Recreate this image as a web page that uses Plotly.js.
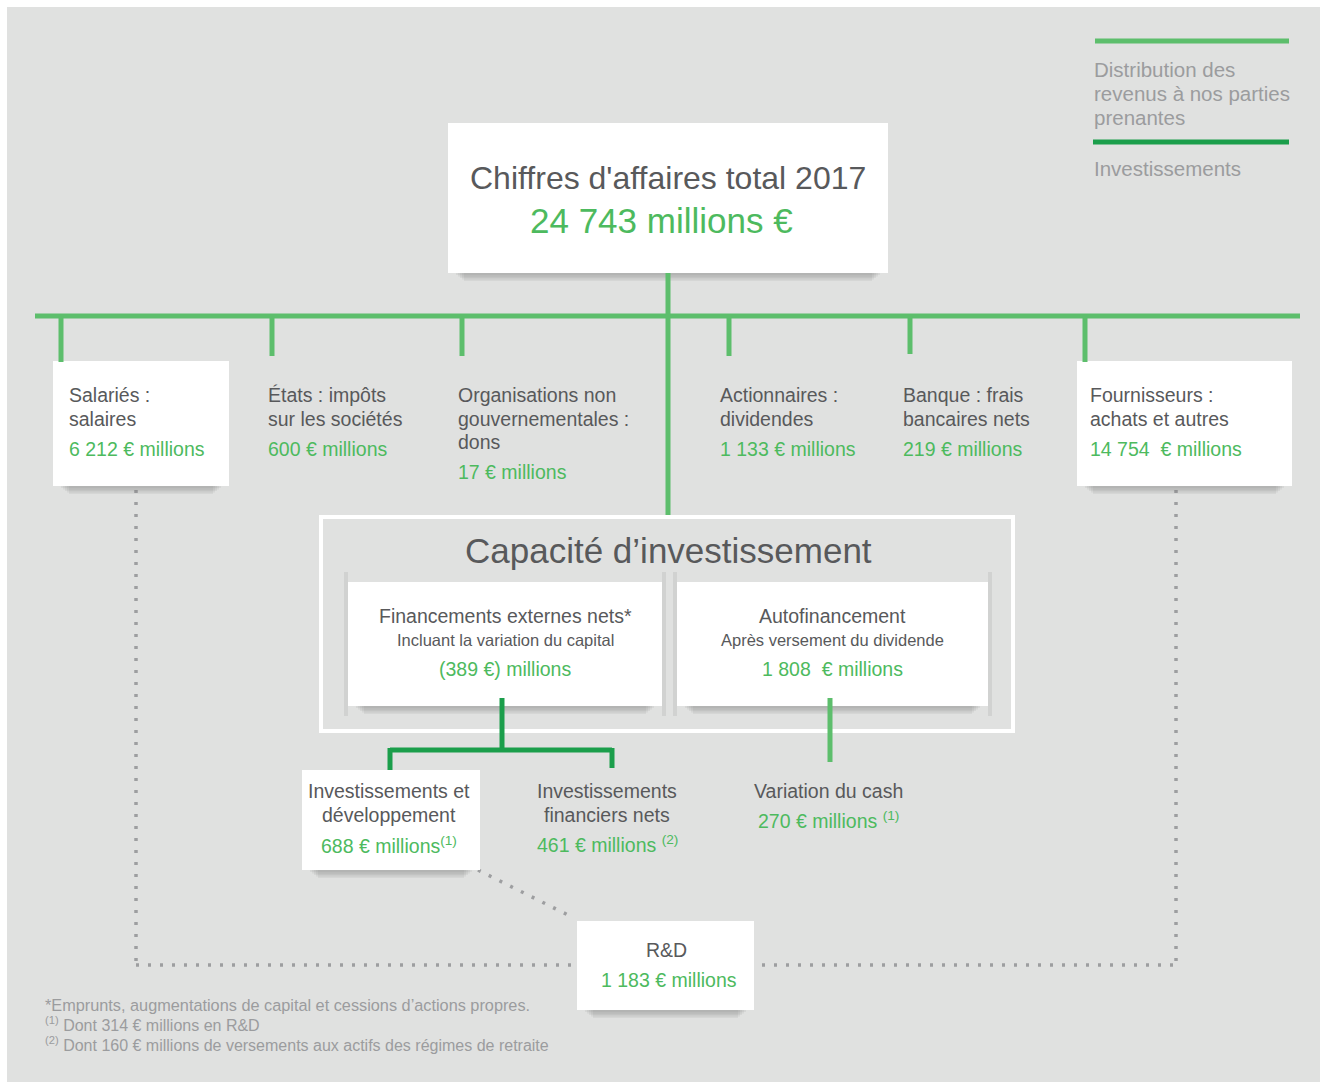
<!DOCTYPE html>
<html><head><meta charset="utf-8">
<script src="https://cdn.plot.ly/plotly-3.0.1.min.js"></script>
<style>html,body{margin:0;padding:0;background:#fff}</style>
</head><body><div id="chart" style="width:1327px;height:1088px"></div>
<script>
// ---- data ----
const revenueTitle = "Chiffres d'affaires total 2017";
const revenueValue = "24 743 millions €";
const stakeholderLabels = ["Salariés :<br>salaires", "États : impôts<br>sur les sociétés", "Organisations non<br>gouvernementales :<br>dons", "Actionnaires :<br>dividendes", "Banque : frais<br>bancaires nets", "Fournisseurs :<br>achats et autres"];
const stakeholderValues = ["6 212 € millions", "600 € millions", "17 € millions", "1 133 € millions", "219 € millions", "14 754  € millions"];
const capacityTitle = "Capacité d’investissement";
const capacityLabels = ["Financements externes nets*", "Autofinancement"];
const capacitySubs = ["Incluant la variation du capital", "Après versement du dividende"];
const capacityValues = ["(389 €) millions", "1 808  € millions"];
const investLabels = ["Investissements et<br>développement", "Investissements<br>financiers nets", "Variation du cash"];
const investValues = ["688 € millions<sup>(1)</sup>", "461 € millions <sup>(2)</sup>", "270 € millions <sup>(1)</sup>"];
const rdLabel = "R&D";
const rdValue = "1 183 € millions";
const legendLabels = ["Distribution des<br>revenus à nos parties<br>prenantes", "Investissements"];
const footnotes = ["*Emprunts, augmentations de capital et cessions d’actions propres.", "<sup>(1)</sup> Dont 314 € millions en R&D", "<sup>(2)</sup> Dont 160 € millions de versements aux actifs des régimes de retraite"];

// ---- styling ----
const BG = "#e0e1e0", LG = "#5dbe6c", DG = "#1b9e4b", TXT = "#58595b", GREEN = "#4dba5e", GREY = "#9b9c9e", DOT = "#9d9ea0";
const FONT = "Liberation Sans, Arial, sans-serif";
const shapes = [], ann = [];
function rect(x0,y0,x1,y1,fill,line){shapes.push({type:"rect",xref:"x",yref:"y",x0,y0,x1,y1,fillcolor:fill,line:line||{width:0},layer:"below"});}
function box(x0,y0,x1,y1){
  for(let i=0;i<5;i++){rect(x0+8+i*2,y1,x1-8-i*2,y1+2+i*1.5,"rgba(120,120,120,0.10)");}
  rect(x0,y0,x1,y1,"#ffffff");
}
function line(x0,y0,x1,y1,color,w,dash){shapes.push({type:"line",xref:"x",yref:"y",x0,y0,x1,y1,line:{color,width:w,dash:dash||"solid"},layer:"below"});}
function txt(x,y,t,size,color,anchor){ann.push({x,y,xref:"x",yref:"y",text:t,showarrow:false,xanchor:anchor||"left",yanchor:"middle",font:{family:FONT,size,color},align:anchor==="center"?"center":"left"});}

// background panel
rect(7,7,1320,1082,BG);

// legend
line(1095,41,1289,41,LG,5);
legendLabels[0].split("<br>").forEach((l,i)=>txt(1092,69+i*24,l,20.5,GREY));
line(1093,142,1289,142,DG,5);
txt(1092,168,legendLabels[1],20.5,GREY);

// dotted R&D links (drawn first, under boxes)
const DASH="3px,9px";
line(136,490,136,965,DOT,3.5,DASH);
line(136,965,572,965,DOT,3.5,DASH);
line(762,965,1176,965,DOT,3.5,DASH);
line(1176,490,1176,965,DOT,3.5,DASH);
line(478,870,572,917,DOT,3.5,DASH);

// top box
box(448,123,888,273);
txt(668,178,revenueTitle,32,TXT,"center");
txt(661,220,revenueValue,35,GREEN,"center");

// distribution tree
line(35,316,1300,316,LG,5);
line(668,273,668,516,LG,5);
const dropX=[61,272,462,729,910,1085];
const dropEnd=[362,356,356,356,354,362];
const textX=[67,266,456,718,901,1088];
const boxed=[[53,229],null,null,null,null,[1077,1292]];
stakeholderLabels.forEach((lab,i)=>{
  if(boxed[i]) box(boxed[i][0],361,boxed[i][1],486);
  line(dropX[i],316,dropX[i],dropEnd[i],LG,5);
  const lines=lab.split("<br>");
  lines.forEach((l,j)=>txt(textX[i],395+j*23.5,l,19.5,TXT));
  txt(textX[i],395+(lines.length-1)*23.5+30,stakeholderValues[i],19.5,GREEN);
});

// capacity box
rect(321,517,1013,731,"rgba(0,0,0,0)",{color:"#ffffff",width:4});
txt(668,550,capacityTitle,35,TXT,"center");
const capX=[[348,662],[677,988]];
capX.forEach((c,i)=>{
  for(let k=0;k<4;k++){rect(c[0]-1-k,572,c[0]-k,716,"rgba(110,110,110,0.12)");rect(c[1]+k,572,c[1]+1+k,716,"rgba(110,110,110,0.12)");}
  box(c[0],582,c[1],706);
  const cx=(c[0]+c[1])/2;
  txt(cx,616,capacityLabels[i],19.5,TXT,"center");
  txt(cx,640,capacitySubs[i],16.5,TXT,"center");
  txt(cx,669,capacityValues[i],19.5,GREEN,"center");
});

// investments tree
line(502,698,502,750,DG,5);
line(390,750,612,750,DG,5);
line(390,748,390,770,DG,5);
line(612,748,612,768,DG,5);
line(830,698,830,762,LG,5);

box(302,770,480,870);
const invX=[389,607,828];
investLabels.forEach((lab,i)=>{
  const lines=lab.split("<br>");
  lines.forEach((l,j)=>txt(invX[i],791+j*24,l,19.5,TXT,"center"));
  txt(invX[i],791+(lines.length-1)*24+29+(i===0?1:0),investValues[i],19.5,GREEN,"center");
});

// R&D box
box(577,921,754,1010);
txt(666,950,rdLabel,19.5,TXT,"center");
txt(669,980,rdValue,19.5,GREEN,"center");

// footnotes
txt(43,1005,footnotes[0],16.3,GREY);
txt(43,1024,footnotes[1],16,GREY);
txt(43,1044,footnotes[2],16,GREY);

const layout={width:1327,height:1088,margin:{l:0,r:0,t:0,b:0},paper_bgcolor:"#ffffff",plot_bgcolor:"rgba(0,0,0,0)",
  xaxis:{range:[0,1327],visible:false,fixedrange:true},
  yaxis:{range:[1088,0],visible:false,fixedrange:true},
  showlegend:false,shapes,annotations:ann};
Plotly.newPlot("chart",[{x:[],y:[],type:"scatter",mode:"markers",hoverinfo:"skip"}],layout,{staticPlot:true,displayModeBar:false});
</script></body></html>
